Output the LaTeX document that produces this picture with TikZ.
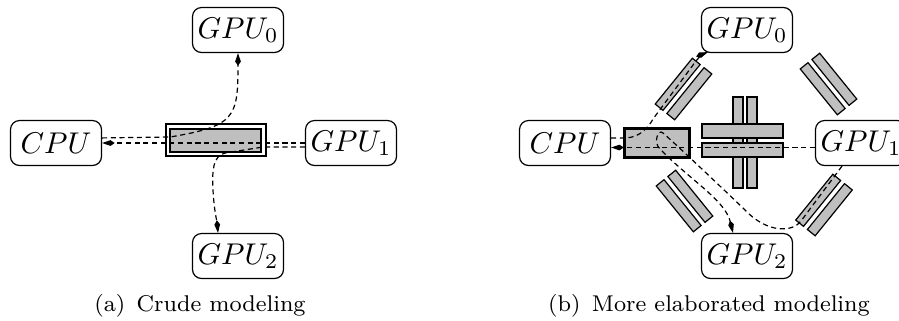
\documentclass[tikz,border=0pt]{standalone}
\usetikzlibrary{arrows.meta,calc}
\begin{document}
\begin{tikzpicture}[x=0.33333pt,y=-0.33333pt,
  dev/.style={draw,rounded corners=3pt,minimum width=30.33pt,minimum height=15pt,inner sep=0pt,font=\normalsize},
  link/.style={dash pattern=on 1.7pt off 1.2pt,line width=0.4pt},
  arrowend/.style={-{Kite[length=4.2pt,width=1.9pt,inset=1.4pt]}},
  busbar/.style={draw,fill=black!25,line width=0.4pt},
  captext/.style={font=\fontsize{7.6}{9}\selectfont,inner sep=0pt}]
\useasboundingbox (0,0) rectangle (899,320);

% ---------- (a) crude modeling ----------
\node[dev] (gpu0A) at (238,30) {$GPU_0$};
\node[dev] (cpuA) at (56,143) {$CPU$};
\node[dev] (gpu1A) at (351,143) {$GPU_1$};
\node[dev] (gpu2A) at (238,256) {$GPU_2$};

\draw[fill=white,line width=0.4pt] (166,124) rectangle (266,156);
\draw[busbar] (170,129) rectangle (261,152);

\draw[link,arrowend] ([yshift=1.7pt]cpuA.east) -- (170,137)
  .. controls (235,126) and (238,118) .. (gpu0A.south);
\draw[link,arrowend] (gpu1A.west) -- (cpuA.east);
\draw[link,arrowend] ([yshift=-1.3pt]gpu1A.west) -- (263,147) -- (225,153)
  .. controls (213,156) and (212,170) .. (213,190)
  .. controls (214,210) and (217,222) .. ([xshift=-6.67pt]gpu2A.north);

\node[captext] (capA) at (200,306) {(a)\enspace Crude modeling};

% ---------- (b) more elaborated modeling ----------
\node[dev] (gpu0B) at (747,30) {$GPU_0$};
\node[dev] (cpuB) at (565,143) {$CPU$};
\node[dev] (gpu1B) at (861,143) {$GPU_1$};
\node[dev] (gpu2B) at (747,256) {$GPU_2$};

% switch
\draw[fill=black!25,line width=1pt] (624,128) rectangle (689,157);
% central cross
\draw[busbar] (733,97) rectangle (743,188);
\draw[busbar] (747,97) rectangle (757,188);
\draw[busbar] (702,124) rectangle (783,138);
\draw[busbar] (702,143) rectangle (783,157);
% diagonal bus pairs
\begin{scope}[shift={(683.5,89)},rotate=51]
  \draw[busbar] (-29.5,-12.5) rectangle (29.5,-2.5);
  \draw[busbar] (-29.5,2.5) rectangle (29.5,12.5);
\end{scope}
\begin{scope}[shift={(828.5,84)},rotate=-51]
  \draw[busbar] (-29.5,-12.5) rectangle (29.5,-2.5);
  \draw[busbar] (-29.5,2.5) rectangle (29.5,12.5);
\end{scope}
\begin{scope}[shift={(684.5,201)},rotate=-51]
  \draw[busbar] (-29.5,-12.5) rectangle (29.5,-2.5);
  \draw[busbar] (-29.5,2.5) rectangle (29.5,12.5);
\end{scope}
\begin{scope}[shift={(824,205)},rotate=51]
  \draw[busbar] (-29.5,-12.5) rectangle (29.5,-2.5);
  \draw[busbar] (-29.5,2.5) rectangle (29.5,12.5);
\end{scope}

\draw[link,arrowend] ([yshift=1.7pt]cpuB.east) -- (626,138)
  .. controls (640,137) and (648,128) .. (653,119) -- (696,61)
  .. controls (700,56) and (703,54) .. ($(gpu0B.south west)+(7,-1)$);
\draw[link,arrowend] ([yshift=-1.5pt]gpu1B.west) -- ([yshift=-1.5pt]cpuB.east);
\draw[link,arrowend] ([xshift=-6.33pt]gpu1B.south) -- (801,221)
  .. controls (793,232) and (768,234) .. (745,210)
  .. controls (720,186) and (680,148) .. (663,133)
  .. controls (658,128) and (653,143) .. (660,149)
  .. controls (690,180) and (725,200) .. ([xshift=-4.67pt]gpu2B.north);

\node[captext] (capB) at (709,306) {(b)\enspace More elaborated modeling};
\end{tikzpicture}
\end{document}
